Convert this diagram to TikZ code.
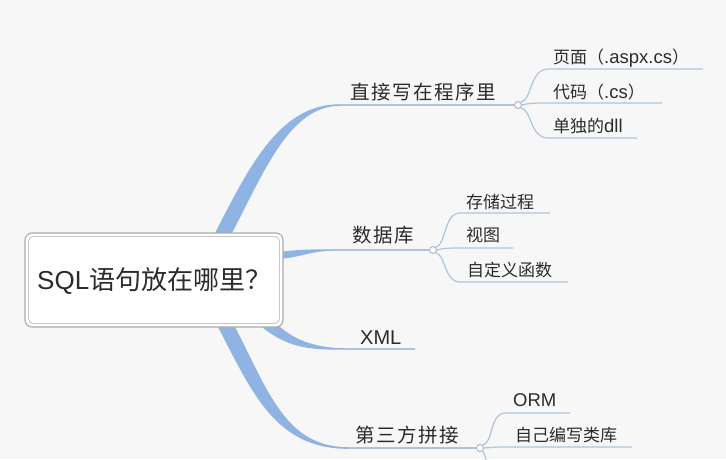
\documentclass[tikz,border=0pt]{standalone}
\usepackage{fontspec}
\setmainfont{Liberation Sans}
\newfontfamily\cjk{Noto Sans CJK SC}
\newfontfamily\cjkm[LetterSpace=8]{Noto Sans CJK SC}
\definecolor{bgc}{HTML}{F7F7F7}
\definecolor{branchc}{HTML}{8FB4E3}
\definecolor{linec}{HTML}{B0C3DB}
\definecolor{circc}{HTML}{A3B6CE}
\definecolor{txtc}{HTML}{2B2B2B}
\definecolor{boxo}{HTML}{ABABAB}
\definecolor{boxi}{HTML}{C6C6C6}
\tikzset{
  ribbon/.style={fill=branchc, draw=none},
  uline/.style={draw=linec, line width=1.2pt},
  knob/.style={circle, draw=circc, fill=white, line width=0.9pt, minimum size=7pt, inner sep=0pt},
  titletxt/.style={anchor=base west, inner sep=0pt, text=txtc, font=\fontsize{26}{30}\selectfont},
  maintxt/.style={anchor=base west, inner sep=0pt, text=txtc, font=\fontsize{19.5}{23}\selectfont},
  subtxt/.style={anchor=base west, inner sep=0pt, text=txtc, font=\fontsize{17}{20}\selectfont},
}
\begin{document}
\begin{tikzpicture}[x=1pt,y=-1pt]
\fill[bgc] (0,0) rectangle (726,459);
\useasboundingbox (0,0) rectangle (726,459);

% thick tapered branches
\fill[ribbon] (214,240) -- (215,233) .. controls (250,165) and (280,104.2) .. (340,104.2)
  -- (340,105.8) .. controls (290,106) and (265,170) .. (232,233) -- (232,240) -- cycle;
\fill[ribbon] (276,251.5) -- (283,251.5) .. controls (300,249.5) and (312,249.3) .. (332,249.3)
  -- (332,250.7) .. controls (312,251) and (300,257) .. (283,258.5) -- (276,258.5) -- cycle;
\fill[ribbon] (262,320) -- (262,327) .. controls (290,350) and (315,349.7) .. (347,349.7)
  -- (347,348.3) .. controls (318,348) and (298,342) .. (280,327) -- (280,320) -- cycle;
\fill[ribbon] (218,320) -- (218,327) .. controls (252,392) and (275,448.8) .. (348,448.8)
  -- (348,447.2) .. controls (285,447) and (268,390) .. (235,327) -- (235,320) -- cycle;

% central box
\draw[boxo, line width=1.1pt, fill=white, rounded corners=7pt] (25,233) rectangle (283,327);
\draw[boxi, line width=0.9pt, rounded corners=5pt] (28.5,236.5) rectangle (279.5,323.5);
\node[titletxt] (root) at (37,289.5) {SQL{\cjk 语句放在哪里？}};

% main topics
\node[maintxt] (t1) at (350,99) {\cjkm 直接写在程序里};
\node[maintxt] (t2) at (352,242) {\cjkm 数据库};
\node[maintxt, font=\fontsize{20}{23}\selectfont] (t3) at (360,344) {XML};
\node[maintxt] (t4) at (355,442) {\cjkm 第三方拼接};

\coordinate (u1s) at (339,105); \node[knob] (k1) at (518,105) {};
\coordinate (u2s) at (331,250); \node[knob] (k2) at (433,250) {};
\coordinate (u3s) at (346,349); \coordinate (u3e) at (415,349);
\coordinate (u4s) at (347,448); \node[knob] (k4) at (480,448) {};

\draw[uline] (u1s) -- (k1.west);
\draw[uline] (u2s) -- (k2.west);
\draw[uline] (u3s) -- (u3e);
\draw[uline] (u4s) -- (k4.west);

% sub topics of 1
\node[subtxt] (s11) at (553,63) {{\cjk 页面（}{\fontsize{18.5}{20}\selectfont .aspx.cs}{\cjk ）}};
\node[subtxt] (s12) at (553,98) {{\cjk 代码（}{\fontsize{18.5}{20}\selectfont .cs}{\cjk ）}};
\node[subtxt] (s13) at (553,132.5) {{\cjk 单独的}{\fontsize{18.5}{20}\selectfont dll}};
\coordinate (e11) at (703,69); \coordinate (e12) at (662,103); \coordinate (e13) at (637,138);
\draw[uline] (k1.north east) .. controls (532,100) and (530,69) .. (548,69) -- (e11);
\draw[uline] (k1.east) .. controls (528,103.5) .. (540,103) -- (e12);
\draw[uline] (k1.south east) .. controls (532,110) and (530,138) .. (548,138) -- (e13);

% sub topics of 2
\node[subtxt] (s21) at (466,208) {\cjk 存储过程};
\node[subtxt] (s22) at (466,241) {\cjk 视图};
\node[subtxt] (s23) at (467,276) {\cjk 自定义函数};
\coordinate (e21) at (550,213); \coordinate (e22) at (513,248); \coordinate (e23) at (568,282);
\draw[uline] (k2.north east) .. controls (446,245) and (444,213) .. (460,213) -- (e21);
\draw[uline] (k2.east) .. controls (443,248.5) .. (452,248) -- (e22);
\draw[uline] (k2.south east) .. controls (446,255) and (444,282) .. (460,282) -- (e23);

% sub topics of 4
\node[subtxt] (s41) at (513,406) {{\fontsize{18.5}{20}\selectfont ORM}};
\node[subtxt] (s42) at (515,441) {\cjk 自己编写类库};
\coordinate (e41) at (570,413); \coordinate (e42) at (632,447); \coordinate (e43) at (490,472);
\draw[uline] (k4.north east) .. controls (493,443) and (490,413) .. (505,413) -- (e41);
\draw[uline] (k4.east) .. controls (490,447.5) .. (500,447) -- (e42);
\draw[uline] (k4.south east) .. controls (485,455) and (487,462) .. (e43);
\end{tikzpicture}
\end{document}
